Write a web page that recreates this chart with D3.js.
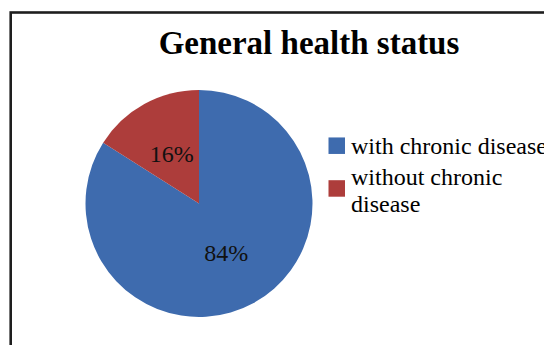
<!DOCTYPE html>
<html>
<head>
<meta charset="utf-8">
<script src="https://cdn.jsdelivr.net/npm/d3@7"></script>
<style>
  html, body { margin: 0; padding: 0; background: #fff; }
  svg { display: block; }
</style>
</head>
<body>
<svg id="chart" width="544" height="345"></svg>
<script>
const title = "General health status";
const categories = ["with chronic disease", "without chronic disease"];
const legendLines = [["with chronic disease"], ["without chronic", "disease"]];
const values = [84, 16];
const labels = ["84%", "16%"];
const colors = ["#3E6BAE", "#AD3D3B"];

const svg = d3.select("#chart");
const W = 544, H = 345;

svg.append("rect").attr("width", W).attr("height", H).attr("fill", "#fff");

// outer frame (extends beyond right/bottom edges)
svg.append("rect")
  .attr("x", 10.7).attr("y", 12.5)
  .attr("width", 600).attr("height", 400)
  .attr("fill", "none").attr("stroke", "#1e1e1e").attr("stroke-width", 2.6);

svg.append("text")
  .attr("x", 309).attr("y", 54)
  .attr("text-anchor", "middle")
  .attr("font-family", "'Liberation Serif', 'Times New Roman', serif")
  .attr("font-weight", "bold")
  .attr("font-size", 33)
  .attr("fill", "#000")
  .text(title);

const cx = 199, cy = 203.5, R = 113.5;
const pie = d3.pie().sort(null).value(d => d);
const arcs = pie(values);
const arc = d3.arc().innerRadius(0).outerRadius(R);
const g = svg.append("g").attr("transform", `translate(${cx},${cy})`);

g.selectAll("path").data(arcs).join("path")
  .attr("d", arc)
  .attr("fill", (d, i) => colors[i]);

g.selectAll("text").data(arcs).join("text")
  .attr("x", d => arc.centroid(d)[0])
  .attr("y", d => arc.centroid(d)[1])
  .attr("dy", "0.34em")
  .attr("text-anchor", "middle")
  .attr("font-family", "'Liberation Serif', 'Times New Roman', serif")
  .attr("font-size", 24)
  .attr("fill", "#111")
  .text((d, i) => labels[i]);

// legend
const legendX = 328.5, sq = 16.5;
const legendY = [154, 185];
const lineH = 26.7;
const lg = svg.append("g");
categories.forEach((c, i) => {
  const lines = legendLines[i];
  const base = legendY[i];
  const midY = base - 8.3 + (lines.length - 1) * lineH * 0.44;
  lg.append("rect")
    .attr("x", legendX).attr("y", midY - sq / 2)
    .attr("width", sq).attr("height", sq)
    .attr("fill", colors[i]);
  const t = lg.append("text")
    .attr("font-family", "'Liberation Serif', 'Times New Roman', serif")
    .attr("font-size", 24)
    .attr("fill", "#000");
  lines.forEach((ln, j) => {
    t.append("tspan").attr("x", 351).attr("y", base + j * lineH).text(ln);
  });
});
</script>
</body>
</html>
